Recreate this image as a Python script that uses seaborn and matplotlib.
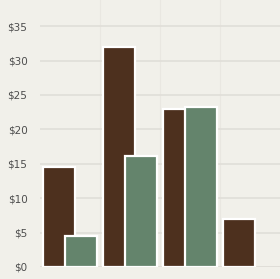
import matplotlib
matplotlib.use("Agg")
import matplotlib.pyplot as plt
import seaborn as sns
import pandas as pd
import numpy as np

categories = ["A", "B", "C", "D"]
series_names = ["Series 1", "Series 2"]
brown_values = [14.5, 32.0, 23.0, 7.0]
green_values = [4.5, 16.2, 23.3, np.nan]
y_ticks = [0, 5, 10, 15, 20, 25, 30, 35]
y_tick_labels = ["$0", "$5", "$10", "$15", "$20", "$25", "$30", "$35"]

bg = "#f1f0ea"
colors = ["#552e16", "#5e8a69"]

df = pd.DataFrame({
    "cat": categories * 2,
    "series": [series_names[0]] * 4 + [series_names[1]] * 4,
    "value": brown_values + green_values,
})
df = df.dropna()

sns.set_theme(style="white")
plt.rcParams['font.family'] = ['DejaVu Sans']

fig = plt.figure(figsize=(2.80, 2.79), dpi=100, facecolor=bg)
ax = fig.add_axes([40/280, 12/279, 240/280, 267/279])
ax.set_facecolor(bg)

sns.barplot(data=df, x="cat", y="value", hue="series", order=categories,
            hue_order=series_names, palette=colors, dodge=True, width=0.733,
            gap=0, edgecolor="white", linewidth=1.6, legend=False, ax=ax,
            err_kws={"linewidth": 0}, zorder=3)

# widen bars so they overlap
new_w = 0.52
for p in ax.patches:
    cx = p.get_x() + p.get_width() / 2
    p.set_width(new_w)
    p.set_x(cx - new_w / 2)

ax.set_xlim(-0.5, 3.5)
ax.set_ylim(0, 38.8)
ax.set_yticks(y_ticks)
ax.set_yticklabels(y_tick_labels)
ax.set_xticks([])
ax.set_xticks([0.5, 1.5, 2.5], minor=True)
ax.set_xlabel("")
ax.set_ylabel("")
ax.tick_params(axis="y", length=0, pad=9, labelsize=7.5, labelcolor="#4d4d4d")
ax.tick_params(axis="x", which="both", length=0)
ax.grid(axis="y", color="#e0ded8", linewidth=1.2, zorder=0)
ax.grid(axis="x", which="minor", color="#e9e7e1", linewidth=0.8, zorder=0)
for s in ax.spines.values():
    s.set_visible(False)
ax.axhline(0, color="#e0ded8", linewidth=1.2, zorder=1)

fig.savefig("out.png", dpi=100, facecolor=bg)
